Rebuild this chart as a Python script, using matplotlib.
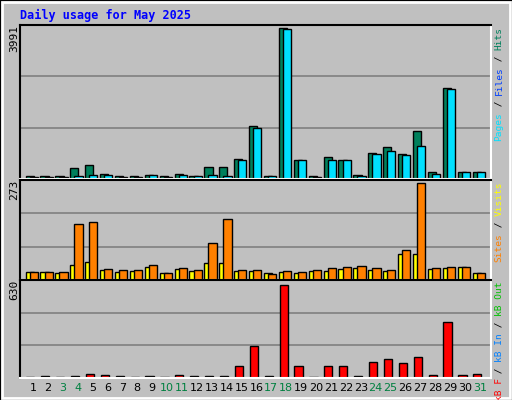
import matplotlib
matplotlib.use("Agg")
import matplotlib.pyplot as plt
from matplotlib.patches import Rectangle

days = list(range(1, 32))
weekend = [3, 4, 10, 11, 17, 18, 24, 25, 31]
hits = [72, 90, 90, 280, 361, 144, 90, 90, 117, 72, 144, 90, 307, 307, 524, 1391, 90, 3991,
        497, 72, 578, 497, 117, 686, 849, 659, 1282, 172, 2393, 172, 172]
pages = [45, 45, 45, 90, 117, 117, 45, 45, 117, 45, 117, 90, 117, 90, 497, 1336, 90, 3964,
         497, 45, 497, 497, 90, 659, 740, 632, 876, 144, 2366, 172, 172]
visits = [22, 22, 19, 42, 51, 28, 22, 25, 36, 19, 31, 25, 48, 48, 25, 25, 19, 22, 19, 25,
          25, 31, 34, 28, 25, 72, 72, 31, 34, 36, 19]
sites = [22, 22, 22, 158, 164, 31, 28, 28, 42, 19, 34, 28, 104, 172, 28, 28, 16, 25, 22, 28,
         34, 36, 39, 34, 28, 84, 273, 34, 36, 36, 19]
kbytes = [7, 14, 7, 14, 30, 23, 14, 7, 14, 7, 23, 14, 14, 14, 78, 216, 14, 630, 78, 7,
          78, 78, 14, 106, 126, 99, 140, 23, 375, 23, 30]

BG = "#C0C0C0"
W, H = 512, 400
fig = plt.figure(figsize=(5.12, 4.0), dpi=100, facecolor=BG)
fig.patches.append(Rectangle((0, 0), 1, 1, transform=fig.transFigure, fill=False,
                             edgecolor="black", linewidth=2))
fig.patches.append(Rectangle((2 / W, 2 / H), 1 - 4 / W, 1 - 4 / H, transform=fig.transFigure,
                             fill=False, edgecolor="white", linewidth=2))


def px_ax(x0, y0, x1, y1):
    return fig.add_axes([x0 / W, 1 - y1 / H, (x1 - x0) / W, (y1 - y0) / H])


def style(ax, top):
    ax.set_facecolor(BG)
    ax.set_xlim(0.13, 31.74)
    ax.set_ylim(0, top)
    for y in (top / 3, 2 * top / 3):
        ax.axhline(y, color="#808080", linewidth=1.2, zorder=0)
    ax.set_xticks([])
    ax.set_yticks([])
    ax.spines["top"].set_color("black")
    ax.spines["left"].set_color("black")
    ax.spines["right"].set_color("white")
    ax.spines["bottom"].set_color("white")
    for s in ax.spines.values():
        s.set_linewidth(1.5)


def bars(ax, vals, off, width, color):
    ax.bar([d + off for d in days], vals, width=width, align="edge", color=color,
           edgecolor="black", linewidth=1)


ax1 = px_ax(20, 25, 491, 179)
style(ax1, 3991 * 1.02)
bars(ax1, hits, -0.5, 0.55, "#00805C")
bars(ax1, pages, -0.22, 0.55, "#00E0FF")

ax2 = px_ax(20, 180, 491, 280)
style(ax2, 273 * 1.03)
bars(ax2, visits, -0.5, 0.55, "#FFFF00")
bars(ax2, sites, -0.22, 0.55, "#FF8000")

ax3 = px_ax(20, 280, 491, 378)
style(ax3, 630 * 1.05)
bars(ax3, kbytes, -0.45, 0.55, "#FF0000")

for d in days:
    ax3.text(d, -0.1, str(d), transform=ax3.get_xaxis_transform(), ha="center", va="center",
             fontsize=8, family="DejaVu Sans",
             color="#008040" if d in weekend else "black")

fig.text(20 / W, 1 - 15 / H, "Daily usage for May 2025", color="#0000FF", fontsize=8.5,
         weight="bold", family="DejaVu Sans Mono", va="center")

for ytop, label in ((25, "3991"), (180, "273"), (280, "630")):
    fig.text(14 / W, 1 - ytop / H, label, rotation=90, ha="center", va="top", fontsize=8,
             family="DejaVu Sans Mono")

FS = 6.8
CW = FS * 0.602 * 100 / 72
legends = [
    (25, [("Pages", "#00E0FF"), (" / ", "black"), ("Files", "#0040FF"), (" / ", "black"),
          ("Hits", "#00805C")]),
    (180, [("Sites", "#FF8000"), (" / ", "black"), ("Visits", "#FFFF00")]),
    (280, [("kB F", "#FF0000"), (" / ", "black"), ("kB In", "#0080FF"), (" / ", "black"),
           ("kB Out", "#00C000")]),
]
for ytop, parts in legends:
    n = sum(len(p) for p, _ in parts)
    y = ytop + 2 + n * CW
    for txt, col in parts:
        fig.text(499 / W, 1 - y / H, txt, rotation=90, ha="center", va="bottom", color=col,
                 fontsize=FS, family="DejaVu Sans Mono")
        y -= len(txt) * CW

fig.savefig("out.png", dpi=100, facecolor=BG)
